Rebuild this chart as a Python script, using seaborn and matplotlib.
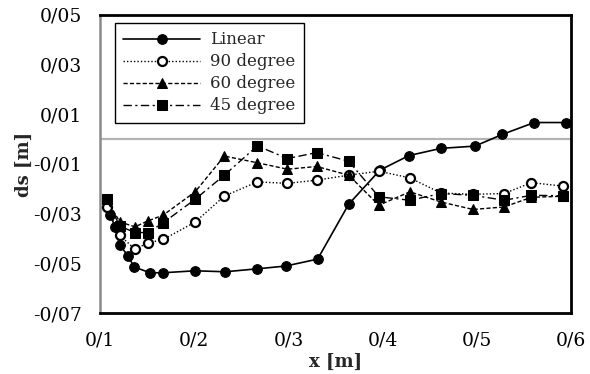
import matplotlib
matplotlib.use("Agg")
import matplotlib.pyplot as plt
import seaborn as sns
import pandas as pd
from matplotlib.ticker import FixedLocator, FuncFormatter

# ---- data ----
x_linear = [0.111, 0.116, 0.121, 0.130, 0.136, 0.153, 0.167, 0.201, 0.233, 0.267,
            0.297, 0.331, 0.364, 0.397, 0.428, 0.462, 0.498, 0.527, 0.561, 0.595]
y_linear = [-0.0306, -0.0353, -0.0427, -0.0471, -0.0514, -0.0538, -0.0538, -0.0530, -0.0534, -0.0522,
            -0.0511, -0.0483, -0.0262, -0.0125, -0.0066, -0.0037, -0.0028, 0.0019, 0.0067, 0.0067]

x_incl = [0.107, 0.121, 0.137, 0.151, 0.167, 0.201, 0.232, 0.267, 0.299, 0.330,
          0.364, 0.396, 0.429, 0.462, 0.496, 0.529, 0.558, 0.591]
y_90 = [-0.0274, -0.0387, -0.0443, -0.0418, -0.0404, -0.0334, -0.0229, -0.0172, -0.0178, -0.0165,
        -0.0145, -0.0129, -0.0156, -0.0217, -0.0222, -0.0219, -0.0175, -0.0189]
y_60 = [-0.0242, -0.0333, -0.0353, -0.0329, -0.0306, -0.0212, -0.0068, -0.0095, -0.0121, -0.0110,
        -0.0145, -0.0266, -0.0212, -0.0253, -0.0283, -0.0273, -0.0234, -0.0230]
y_45 = [-0.0242, -0.0350, -0.0376, -0.0376, -0.0337, -0.0242, -0.0145, -0.0027, -0.0078, -0.0054,
        -0.0089, -0.0232, -0.0246, -0.0219, -0.0226, -0.0246, -0.0226, -0.0228]

series_names = ["Linear", "90 degree", "60 degree", "45 degree"]
y_ticks = [0.05, 0.03, 0.01, -0.01, -0.03, -0.05, -0.07]
x_ticks = [0.1, 0.2, 0.3, 0.4, 0.5, 0.6]
x_label = "x [m]"
y_label = "ds [m]"

# ---- plot ----
sns.set_theme(style="white")
plt.rcParams['font.family'] = ['DejaVu Serif', 'DejaVu Sans']

fig = plt.figure(figsize=(5.9, 3.74), dpi=100)
ax = fig.add_axes([0.1695, 0.1631, 0.7983, 0.7968])

ax.axhline(0, color="#b4b4b4", lw=1.6, zorder=1)

df_lin = pd.DataFrame({"x": x_linear, "y": y_linear})
sns.lineplot(data=df_lin, x="x", y="y", ax=ax, estimator=None, sort=False,
             color="black", lw=1.2, marker="o", markersize=7, markerfacecolor="black",
             markeredgecolor="black", label=series_names[0], zorder=3)

df90 = pd.DataFrame({"x": x_incl, "y": y_90})
sns.lineplot(data=df90, x="x", y="y", ax=ax, estimator=None, sort=False,
             color="black", lw=1.0, marker="o", markersize=6.5, markerfacecolor="white",
             markeredgecolor="black", markeredgewidth=1.6,
             label=series_names[1], zorder=3)
ax.lines[-1].set_linestyle((0, (1, 1.5)))

df60 = pd.DataFrame({"x": x_incl, "y": y_60})
sns.lineplot(data=df60, x="x", y="y", ax=ax, estimator=None, sort=False,
             color="black", lw=1.0, marker="^", markersize=7, markerfacecolor="black",
             markeredgecolor="black", label=series_names[2], zorder=3)
ax.lines[-1].set_linestyle((0, (3, 1.6)))

df45 = pd.DataFrame({"x": x_incl, "y": y_45})
sns.lineplot(data=df45, x="x", y="y", ax=ax, estimator=None, sort=False,
             color="black", lw=1.0, marker="s", markersize=6.5, markerfacecolor="black",
             markeredgecolor="black", label=series_names[3], zorder=3)
ax.lines[-1].set_linestyle((0, (6, 2.5, 1.5, 2.5)))

ax.set_xlim(0.1, 0.6)
ax.set_ylim(-0.07, 0.05)
ax.xaxis.set_major_locator(FixedLocator(x_ticks))
ax.yaxis.set_major_locator(FixedLocator(y_ticks))
ax.xaxis.set_major_formatter(FuncFormatter(lambda v, p: f"{v:.1f}".replace(".", "/")))
ax.yaxis.set_major_formatter(FuncFormatter(lambda v, p: f"{v:.2f}".replace(".", "/")))
ax.tick_params(axis="both", which="both", length=0, labelsize=13.5, colors="black")
ax.tick_params(axis="y", pad=13)
ax.tick_params(axis="x", pad=13)

ax.set_xlabel(x_label, fontsize=13, fontweight="bold", labelpad=3)
ax.set_ylabel(y_label, fontsize=13, fontweight="bold", labelpad=0)

for side in ["top", "right", "bottom"]:
    ax.spines[side].set_color("black")
    ax.spines[side].set_linewidth(2)
ax.spines["left"].set_color("#8a8a8a")
ax.spines["left"].set_linewidth(1.8)

leg = ax.legend(loc="upper left", bbox_to_anchor=(0.032, 0.973), borderaxespad=0,
                fontsize=12, frameon=True, fancybox=False, edgecolor="black", framealpha=1,
                handlelength=4.6, borderpad=0.5, labelspacing=0.3, handletextpad=0.6)
leg.get_frame().set_linewidth(1.0)

fig.savefig("out.png", dpi=100)
